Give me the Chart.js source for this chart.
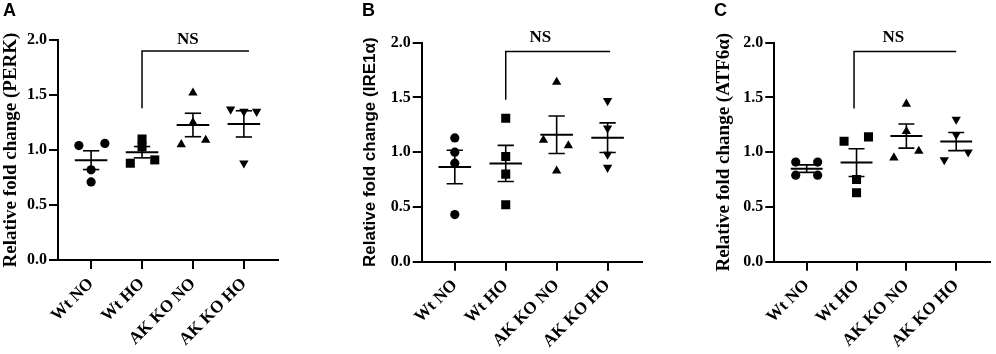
<!DOCTYPE html>
<html lang="en">
<head>
<meta charset="UTF-8">
<title>Relative fold change of PERK, IRE1a and ATF6a</title>
<script src="https://cdn.jsdelivr.net/npm/chart.js"></script>
<style>
  body, html { margin: 0; padding: 0; background: #fff; overflow: hidden; }
  .panel { position: absolute; top: 0; }
</style>
</head>
<body>
<div class="panel" style="left:0"><canvas id="chartA" width="330" height="354"></canvas></div>
<div class="panel" style="left:330px"><canvas id="chartB" width="330" height="354"></canvas></div>
<div class="panel" style="left:660px"><canvas id="chartC" width="336" height="354"></canvas></div>

<script>
const groups = ['Wt NO', 'Wt HO', 'AK KO NO', 'AK KO HO'];
const yTicks = [0, 0.5, 1, 1.5, 2];

// individual values (n = 4 per group)
const perkValues = [[1.04, 1.06, 0.82, 0.71], [0.88, 0.91, 1.10, 1.03], [1.05, 1.09, 1.52, 1.25], [1.37, 1.35, 1.35, 0.88]];
const ire1Values = [[1.13, 1.00, 0.90, 0.43], [1.31, 0.96, 0.80, 0.52], [1.11, 1.06, 1.64, 0.83], [1.47, 1.22, 0.98, 0.86]];
const atf6Values = [[0.91, 0.91, 0.79, 0.79], [1.10, 1.14, 0.75, 0.63], [0.95, 1.01, 1.44, 1.19], [0.93, 1.00, 1.30, 1.16]];

// horizontal spread of the dots around each group (category units)
const perkSpread = [[-0.24, 0.27, 0, 0], [-0.23, 0.25, 0, 0], [-0.23, 0.25, 0, 0], [-0.26, 0, 0.25, 0]];
const ire1Spread = [[0, 0, 0, 0], [0, 0, 0, 0], [-0.26, 0.23, 0, 0], [0, 0, 0, 0]];
const atf6Spread = [[-0.22, 0.22, -0.22, 0.22], [-0.25, 0.24, 0, 0], [-0.25, 0.25, 0, 0], [-0.24, 0.24, 0, 0]];

// NS bracket: Wt HO vs AK KO HO  [from, to, drop, top]
const perkBracket = [1, 3.1, 1.38, 1.9];
const ire1Bracket = [1, 3.05, 1.48, 1.92];
const atf6Bracket = [0.95, 3.0, 1.40, 1.92];

const serif = '"Liberation Serif", "Times New Roman", serif';
const sans = '"Liberation Sans", Arial, sans-serif';
const markers = ['circle', 'rect', 'triangle', 'triangle'];
const markerRot = [0, 0, 0, 180];
const markerSize = [4.6, 6.4, 5.4, 5.4];

function meanSem(arr) {
    const n = arr.length;
    const m = arr.reduce((a, b) => a + b, 0) / n;
    const sd = Math.sqrt(arr.reduce((s, v) => s + (v - m) * (v - m), 0) / (n - 1));
    return [m, sd / Math.sqrt(n)];
}

function seg(points, width) {
    return { type: 'line', data: points, borderColor: '#000', borderWidth: width,
             pointRadius: 0, fill: false, tension: 0 };
}

// draws the "NS" label and the panel letter
const annot = {
    id: 'annot',
    afterDraw(chart, args, opts) {
        const { ctx, scales: { x, y } } = chart;
        ctx.save();
        ctx.fillStyle = '#000';
        ctx.font = 'bold 17px ' + serif;
        ctx.textAlign = 'center';
        ctx.textBaseline = 'middle';
        ctx.fillText('NS', x.getPixelForValue(opts.nsX), y.getPixelForValue(opts.nsY));
        ctx.font = 'bold 18px ' + sans;
        ctx.textAlign = 'left';
        ctx.textBaseline = 'top';
        ctx.fillText(opts.letter, opts.letterX, 2);
        ctx.restore();
    }
};

function makeChart(id, p) {
    const datasets = [];
    p.values.forEach((vals, g) => {
        datasets.push({
            type: 'scatter',
            data: vals.map((v, i) => ({ x: g + p.spread[g][i], y: v })),
            pointStyle: markers[g],
            rotation: markerRot[g],
            radius: markerSize[g],
            backgroundColor: '#000',
            borderColor: '#000',
            borderWidth: 0
        });
        const [m, s] = meanSem(vals);
        datasets.push(seg([{ x: g - 0.32, y: m }, { x: g + 0.32, y: m }], 2));
        datasets.push(seg([{ x: g - 0.16, y: m + s }, { x: g + 0.16, y: m + s }], 1.6));
        datasets.push(seg([{ x: g - 0.16, y: m - s }, { x: g + 0.16, y: m - s }], 1.6));
        datasets.push(seg([{ x: g, y: m - s }, { x: g, y: m + s }], 1.6));
    });
    const b = p.bracket;
    datasets.push(seg([{ x: b[0], y: b[2] }, { x: b[0], y: b[3] }, { x: b[1], y: b[3] }], 1.5));

    new Chart(document.getElementById(id), {
        data: { datasets },
        options: {
            responsive: false,
            animation: false,
            events: [],
            layout: { padding: { left: p.padLeft, top: p.padTop, right: p.padRight, bottom: 0 } },
            scales: {
                x: {
                    type: 'linear',
                    min: -0.65, max: 3.67,
                    afterBuildTicks: (s) => { s.ticks = groups.map((g, i) => ({ value: i })); },
                    afterFit: (s) => { s.height = p.xHeight; },
                    ticks: {
                        callback: (v) => groups[v],
                        minRotation: 45, maxRotation: 45,
                        color: '#000', padding: 5,
                        font: { family: serif, size: 17, weight: 'bold' }
                    },
                    grid: { drawOnChartArea: false, color: '#000', lineWidth: 2, tickLength: 9 },
                    border: { color: '#000', width: 2 }
                },
                y: {
                    min: 0, max: 2,
                    afterBuildTicks: (s) => { s.ticks = yTicks.map(v => ({ value: v })); },
                    afterFit: (s) => { s.width = p.yWidth; },
                    ticks: {
                        callback: (v) => v.toFixed(1),
                        color: '#000', padding: 2,
                        font: { family: serif, size: 16, weight: 'bold' }
                    },
                    grid: { drawOnChartArea: false, color: '#000', lineWidth: 2, tickLength: 9 },
                    border: { color: '#000', width: 2 },
                    title: {
                        display: true, text: p.title, color: '#000',
                        padding: { top: 0, bottom: 0 },
                        font: { family: p.titleFont, size: p.titleSize, weight: 'bold' }
                    }
                }
            },
            plugins: {
                legend: { display: false },
                tooltip: { enabled: false },
                annot: { nsX: p.nsX, nsY: p.nsY, letter: p.letter, letterX: p.letterX }
            }
        },
        plugins: [annot]
    });
}

makeChart('chartA', {
    values: perkValues, spread: perkSpread, bracket: perkBracket,
    title: 'Relative fold change (PERK)', titleFont: serif, titleSize: 19,
    padLeft: 0, padTop: 40, padRight: 52, yWidth: 58, xHeight: 94,
    nsX: 1.9, nsY: 2.0, letter: 'A', letterX: 3
});
makeChart('chartB', {
    values: ire1Values, spread: ire1Spread, bracket: ire1Bracket,
    title: 'Relative fold change (IRE1\u03b1)', titleFont: sans, titleSize: 17,
    padLeft: 30, padTop: 42.7, padRight: 18.3, yWidth: 61.7, xHeight: 92.3,
    nsX: 1.68, nsY: 2.05, letter: 'B', letterX: 32
});
makeChart('chartC', {
    values: atf6Values, spread: atf6Spread, bracket: atf6Bracket,
    title: 'Relative fold change (ATF6\u03b1)', titleFont: serif, titleSize: 19,
    padLeft: 53, padTop: 42.7, padRight: 3, yWidth: 61.3, xHeight: 92.3,
    nsX: 1.74, nsY: 2.05, letter: 'C', letterX: 54
});
</script>
</body>
</html>
